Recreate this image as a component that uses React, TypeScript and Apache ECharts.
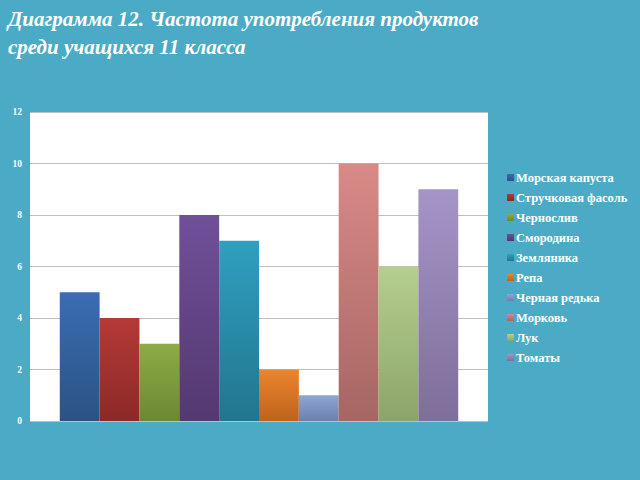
import React, { useEffect, useRef } from "react";
import * as echarts from "echarts";

const titleLines = ["Диаграмма 12. Частота употребления продуктов", "среди учащихся 11 класса"];
const seriesNames = [
  "Морская капуста",
  "Стручковая фасоль",
  "Чернослив",
  "Смородина",
  "Земляника",
  "Репа",
  "Черная редька",
  "Морковь",
  "Лук",
  "Томаты",
];
const seriesValues = [5, 4, 3, 8, 7, 2, 1, 10, 6, 9];
const topColors = ["#3A6DB3", "#B43A37", "#8DAB46", "#70509A", "#2FA0C0", "#EB852E", "#8EA6D6", "#D98A87", "#B5CF8F", "#A594C6"];
const bottomColors = ["#2B5283", "#8C2927", "#6C8833", "#543870", "#22758E", "#BE631C", "#6B80AC", "#A66663", "#8CA46A", "#7E6E9A"];
const yTicks = { min: 0, max: 12, interval: 2 };

export default function App() {
  const ref = useRef<HTMLDivElement>(null);
  useEffect(() => {
    const chart = echarts.init(ref.current!, null, { renderer: "svg" });
    const font = "'Liberation Serif', 'Times New Roman', serif";
    chart.setOption({
      animation: false,
      backgroundColor: "#4BABC6",
      title: {
        text: titleLines.join("\n"),
        left: 3,
        top: 0,
        textStyle: {
          color: "#FFFFFF",
          fontFamily: font,
          fontStyle: "italic",
          fontWeight: "bold",
          fontSize: 21,
          lineHeight: 28,
        },
      },
      grid: {
        left: 30,
        right: 152,
        top: 112,
        bottom: 59,
        show: true,
        backgroundColor: "#FFFFFF",
        borderWidth: 0,
      },
      legend: {
        orient: "vertical",
        left: 502,
        top: 166,
        itemWidth: 7,
        itemHeight: 7,
        itemGap: 7,
        icon: "rect",
        itemStyle: { borderWidth: 0 },
        textStyle: { color: "#FFFFFF", fontFamily: font, fontWeight: "bold", fontSize: 12.5, padding: [0, 0, 0, -3] },
        data: seriesNames,
      },
      xAxis: {
        type: "category",
        data: [""],
        axisLine: { show: false },
        axisTick: { show: false },
        axisLabel: { show: false },
      },
      yAxis: {
        type: "value",
        min: yTicks.min,
        max: yTicks.max,
        interval: yTicks.interval,
        axisLine: { show: false },
        axisTick: { show: false },
        axisLabel: { color: "#FFFFFF", fontFamily: font, fontWeight: "bold", fontSize: 9.5, margin: 8 },
        splitLine: { lineStyle: { color: "#BFBFBF", width: 1 } },
      },
      series: seriesNames.map((name, i) => ({
        name,
        type: "bar",
        data: [seriesValues[i]],
        barGap: "0%",
        barCategoryGap: "13%",
        itemStyle: {
          color: new echarts.graphic.LinearGradient(0, 0, 0, 1, [
            { offset: 0, color: topColors[i] },
            { offset: 1, color: bottomColors[i] },
          ]),
          borderWidth: 0,
        },
      })),
    });
    return () => chart.dispose();
  }, []);
  return <div ref={ref} style={{ width: 640, height: 480, position: "absolute", left: 0, top: 0 }} />;
}
